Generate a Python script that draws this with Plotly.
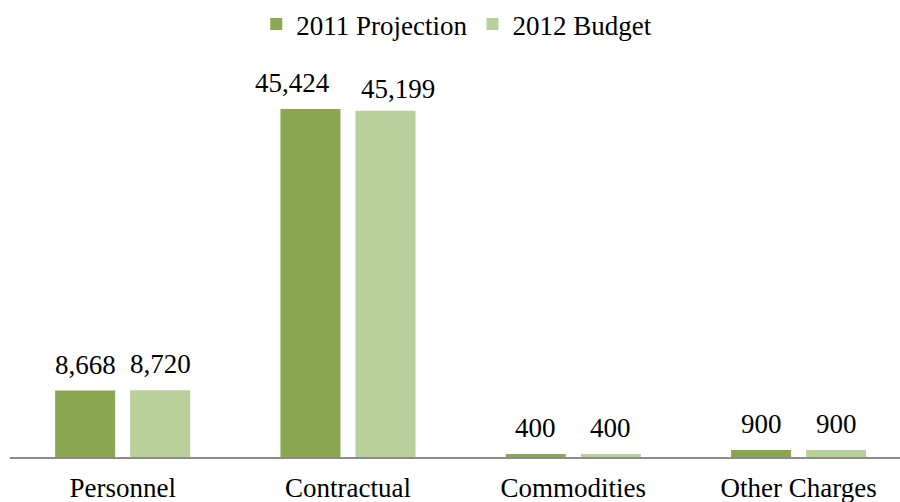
import plotly.graph_objects as go

categories = ["Personnel", "Contractual", "Commodities", "Other Charges"]
proj_2011 = [8668, 45424, 400, 900]
budget_2012 = [8720, 45199, 400, 900]
series_names = ["2011 Projection", "2012 Budget"]

colors = ["#8aa64e", "#bad09a"]
font = dict(family="Liberation Serif", size=27, color="#000")

fig = go.Figure()
for name, vals, col in zip(series_names, [proj_2011, budget_2012], colors):
    fig.add_trace(go.Bar(x=categories, y=vals, name=name, marker=dict(color=col, line=dict(width=0))))

# data labels (Contractual labels nudged apart as in the original)
nudges = [{"Contractual": (-18, 0)}, {"Contractual": (13, -4)}]
for i, vals in enumerate([proj_2011, budget_2012]):
    side = -1 if i == 0 else 1
    for c, v in zip(categories, vals):
        dx, dy = nudges[i].get(c, (0, 0))
        fig.add_annotation(x=c, y=v, text=f"{v:,}", showarrow=False, font=font,
                           xshift=side * 37.5 + dx, yshift=26 + dy, yanchor="middle")

fig.update_layout(
    width=900, height=502,
    margin=dict(l=10, r=0, t=0, b=45),
    paper_bgcolor="white", plot_bgcolor="white",
    barmode="group", bargap=0.334, bargroupgap=0.2,
    font=font,
    showlegend=True,
    legend=dict(orientation="h", x=0.502, xanchor="center", y=1.0, yanchor="top",
                font=font, itemwidth=30, traceorder="normal", bgcolor="rgba(0,0,0,0)"),
    xaxis=dict(range=[-0.5, 3.45], showline=True, linecolor="#8c8c8c", linewidth=2,
               ticks="", showgrid=False, tickfont=font, ticklabelstandoff=6,
               automargin=False),
    yaxis=dict(range=[0, 59650], visible=False, showgrid=False, zeroline=False,
               automargin=False),
)

fig.write_html("out.html")
